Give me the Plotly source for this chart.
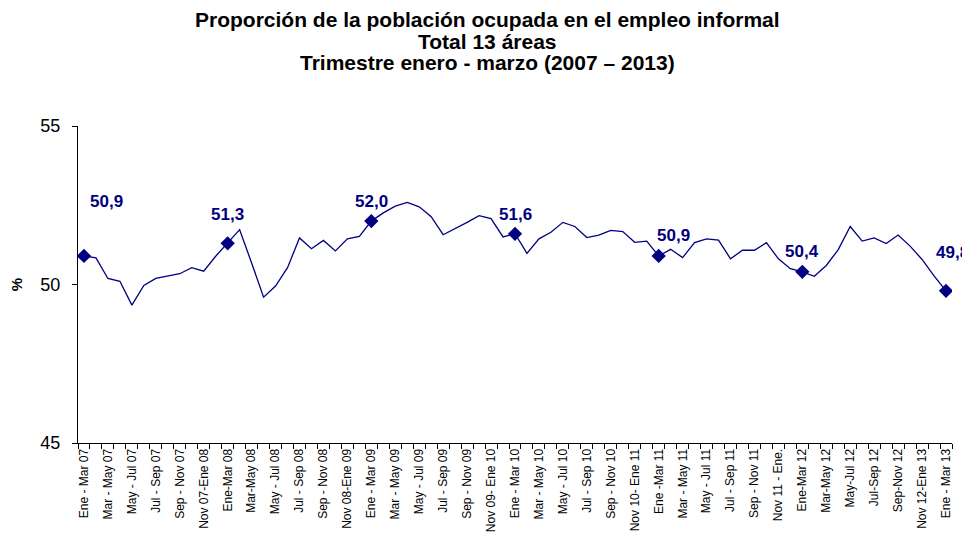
import plotly.graph_objects as go

# rolling quarters, Ene-Mar 07 .. Ene-Mar 13
PERIODS = [
    'Ene - Mar 07', 'Feb - Abr 07', 'Mar - May 07', 'Abr - Jun 07', 'May - Jul 07', 'Jun - Ago 07',
    'Jul - Sep 07', 'Ago - Oct 07', 'Sep - Nov 07', 'Oct - Dic 07', 'Nov 07-Ene 08', 'Dic 07 - Feb 08',
    'Ene-Mar 08', 'Feb - Abr 08', 'Mar-May 08', 'Abr - Jun 08', 'May - Jul 08', 'Jun - Ago 08',
    'Jul - Sep 08', 'Ago - Oct 08', 'Sep - Nov 08', 'Oct - Dic 08', 'Nov 08-Ene 09', 'Dic 08 - Feb 09',
    'Ene - Mar 09', 'Feb - Abr 09', 'Mar - May 09', 'Abr - Jun 09', 'May - Jul 09', 'Jun - Ago 09',
    'Jul - Sep 09', 'Ago - Oct 09', 'Sep - Nov 09', 'Oct - Dic 09', 'Nov 09- Ene 10', 'Dic 09 - Feb 10',
    'Ene - Mar 10', 'Feb - Abr 10', 'Mar - May 10', 'Abr - Jun 10', 'May - Jul 10', 'Jun - Ago 10',
    'Jul - Sep 10', 'Ago - Oct 10', 'Sep - Nov 10', 'Oct - Dic 10', 'Nov 10- Ene 11', 'Dic 10 - Feb 11',
    'Ene -Mar 11', 'Feb - Abr 11', 'Mar - May 11', 'Abr - Jun 11', 'May - Jul 11', 'Jun - Ago 11',
    'Jul - Sep 11', 'Ago - Oct 11', 'Sep - Nov 11', 'Oct - Dic 11', 'Nov 11 - Ene.', 'Dic 11 - Feb 12',
    'Ene-Mar 12', 'Feb - Abr 12', 'Mar-May 12', 'Abr - Jun 12', 'May-Jul 12', 'Jun - Ago 12',
    'Jul-Sep 12', 'Ago - Oct 12', 'Sep-Nov 12', 'Oct - Dic 12', 'Nov 12-Ene 13', 'Dic 12 - Feb 13',
    'Ene - Mar 13',
]

INFORMAL = [
    50.9, 50.84, 50.19, 50.10, 49.35, 49.97, 50.19, 50.26, 50.34, 50.53, 50.42, 50.89,
    51.3, 51.73, 50.68, 49.60, 49.95, 50.53, 51.47, 51.13, 51.39, 51.06, 51.44, 51.52,
    52.0, 52.26, 52.47, 52.59, 52.45, 52.14, 51.57, 51.76, 51.96, 52.17, 52.08, 51.50,
    51.6, 50.98, 51.44, 51.65, 51.96, 51.83, 51.48, 51.56, 51.71, 51.67, 51.33, 51.37,
    50.9, 51.11, 50.85, 51.32, 51.44, 51.40, 50.81, 51.08, 51.08, 51.32, 50.81, 50.50,
    50.4, 50.26, 50.60, 51.10, 51.83, 51.37, 51.47, 51.29, 51.56, 51.21, 50.79, 50.27,
    49.8,
]

# Ene-Mar quarters get a marker and a label
MARKED = ['Ene - Mar 07', 'Ene-Mar 08', 'Ene - Mar 09', 'Ene - Mar 10', 'Ene -Mar 11', 'Ene-Mar 12', 'Ene - Mar 13']

TITLE_LINES = [
    'Proporción de la población ocupada en el empleo informal',
    'Total 13 áreas',
    'Trimestre enero - marzo (2007 – 2013)',
]

NAVY = '#000080'
FONT = 'Liberation Sans, Arial, sans-serif'

mark_y = [INFORMAL[PERIODS.index(p)] for p in MARKED]
label_shift = [(23, 54), (0, 29), (0, 20), (0, 19), (15, 20), (0, 20), (6, 38)]

fig = go.Figure()
fig.add_trace(go.Scatter(
    x=PERIODS, y=INFORMAL, mode='lines',
    line=dict(color=NAVY, width=1.3), hoverinfo='x+y',
))
fig.add_trace(go.Scatter(
    x=MARKED, y=mark_y, mode='markers',
    marker=dict(symbol='diamond', size=11, color=NAVY), hoverinfo='x+y',
))

for p, v, (dx, dy) in zip(MARKED, mark_y, label_shift):
    fig.add_annotation(
        x=p, y=v, text=f'{v:.1f}'.replace('.', ','), showarrow=False,
        xshift=dx, yshift=dy, font=dict(family=FONT, size=17, color=NAVY, weight='bold'),
    )

# three centred title lines, tightly spaced like the original
for i, line in enumerate(TITLE_LINES):
    fig.add_annotation(
        x=0.469, xref='paper', xanchor='center',
        y=1.336 - i * 0.0685, yref='paper', yanchor='middle',
        text=f'<b>{line}</b>', showarrow=False,
        font=dict(family=FONT, size=21, color='black'),
    )

fig.add_annotation(
    x=-0.07, xref='paper', xanchor='center', y=0.5, yref='paper', text='<b>%</b>',
    textangle=-90, showarrow=False, font=dict(family=FONT, size=15, color='black'),
)

# page body has an 8px margin, so the figure is a bit smaller than the window
fig.update_layout(
    width=962, height=529,
    paper_bgcolor='white', plot_bgcolor='white',
    showlegend=False,
    margin=dict(l=70, r=18, t=118, b=94, autoexpand=False),
    font=dict(family=FONT, color='black'),
    xaxis=dict(
        type='category', range=[-0.5, len(PERIODS) - 0.5], automargin=False,
        tickmode='array', tickvals=PERIODS,
        ticktext=[p if i % 2 == 0 else '' for i, p in enumerate(PERIODS)],
        tickson='boundaries', ticks='outside', ticklen=5, tickcolor='black',
        tickangle=-90, tickfont=dict(family=FONT, size=12, color='black'),
        showline=True, linecolor='black', linewidth=1, showgrid=False, zeroline=False,
    ),
    yaxis=dict(
        range=[45, 55], tickvals=[45, 50, 55], automargin=False,
        ticks='outside', ticklen=5, tickcolor='black', ticklabelstandoff=8,
        tickfont=dict(family=FONT, size=18, color='black'),
        showline=True, linecolor='black', linewidth=1, showgrid=False, zeroline=False,
    ),
)

fig.write_html('out.html')
